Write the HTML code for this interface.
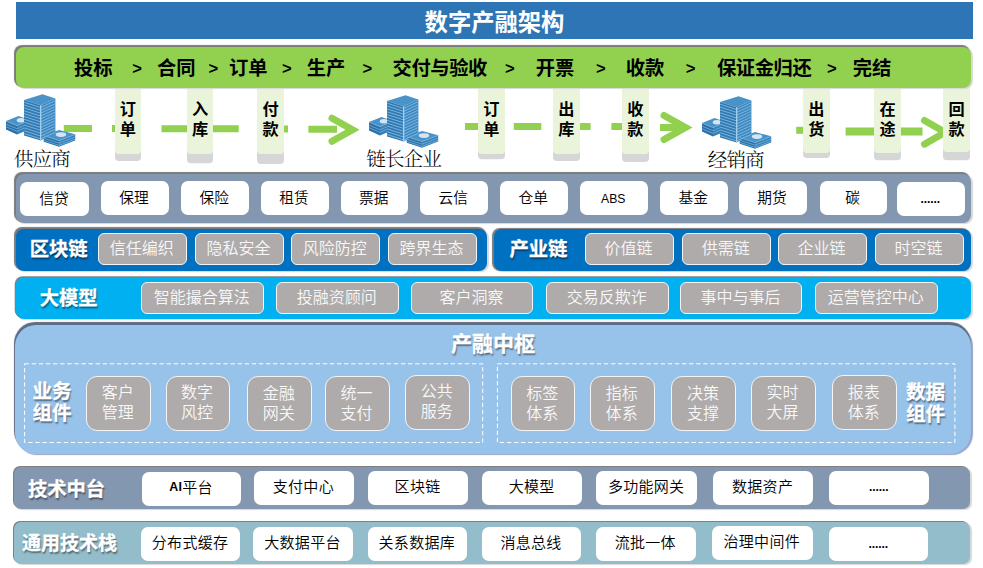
<!DOCTYPE html>
<html lang="zh-CN"><head><meta charset="utf-8"><title>数字产融架构</title>
<style>
html,body{margin:0;padding:0;background:#fff}
body{width:983px;height:568px;position:relative;overflow:hidden;font-family:"Liberation Sans","Noto Sans CJK SC",sans-serif;color:#000}
div{position:absolute;box-sizing:border-box}
.hdr{left:16px;top:2px;width:957px;height:37px;background:#2E75B6;color:#fff;font-weight:bold;font-size:23.3px;line-height:43px;text-align:center}
.bar{border-radius:8px;box-shadow:-1.3px -1.3px 0.8px #7a7a7a,1.5px 1px 1px #d8d8d8}
.gt{font-weight:bold;font-size:19.3px;line-height:24px;top:10px;white-space:nowrap}
.col{background:#EAF4DA;border-radius:0 0 4px 4px;top:80px;width:26.5px;text-align:center;font-weight:bold;font-size:16.2px;line-height:20px;padding-top:18.5px}
.lab{font-family:"Liberation Serif","Noto Serif CJK SC",serif;font-weight:300;font-size:19.6px;letter-spacing:-0.93px;line-height:20px;white-space:nowrap;top:149.6px}
.wb{background:#fff;border-radius:7px;display:flex;align-items:center;justify-content:center;font-size:14.7px;font-weight:350;white-space:nowrap;padding-bottom:3.6px;padding-right:1.6px}
.gb{background:#AFABAB;border:1px solid #f4f4f4;border-radius:6px;display:flex;align-items:center;justify-content:center;font-size:16px;font-weight:350;color:#f8f8f8;padding-bottom:3px;padding-right:1.5px;white-space:nowrap;text-align:center}
.gb2{border-radius:11px;line-height:20px;padding-bottom:0}
.rt{color:#fff;font-weight:bold;font-size:19.3px;-webkit-text-stroke:0.3px #fff;white-space:nowrap;line-height:24px;text-shadow:1px 1.5px 1.5px rgba(0,0,0,.45)}
.dash{border:1px dashed #fff}
svg{position:absolute;left:0;top:0}
</style></head><body>
<div class="hdr">数字产融架构</div>
<svg width="983" height="568" viewBox="0 0 983 568" fill="none" stroke="#92D050" stroke-width="7">
<path d="M63.8 128.6H92M112 128.6H122M161.5 128.8H238.7M268 129H288M308.4 129.2H337"/>
<path d="M332 118.2L352.5 129.7L332 141.3" stroke-linecap="round"/>
<path d="M465 126.5H490M513.8 126.5H541.3M565 126.5H590.6M611.4 126.5H636M660 127.5H680"/>
<path d="M664 115.5L685.5 127.5L664 139.5" stroke-linecap="round"/>
<path d="M796.2 130.3H815"/><path d="M845.6 131.5H922.5" stroke-width="8"/>
<path d="M924.5 120.5L945 132.3L924.5 144.2" stroke-linecap="round"/>
</svg>
<div class="col" style="left:115.0px;width:25.9px;height:73.9px;box-shadow:0 7.1px 0 #D6D6D6">订<br>单</div>
<div class="col" style="left:187.0px;width:26.0px;height:73.9px;box-shadow:0 9.2px 0 #D6D6D6">入<br>库</div>
<div class="col" style="left:257.2px;width:26.7px;height:73.9px;box-shadow:0 10.0px 0 #D6D6D6">付<br>款</div>
<div class="col" style="left:478.1px;width:26.7px;height:73.7px;box-shadow:0 5.3px 0 #D6D6D6">订<br>单</div>
<div class="col" style="left:553.1px;width:26.7px;height:73.6px;box-shadow:0 7.1px 0 #D6D6D6">出<br>库</div>
<div class="col" style="left:622.1px;width:26.7px;height:73.6px;box-shadow:0 8.1px 0 #D6D6D6">收<br>款</div>
<div class="col" style="left:803.1px;width:26.6px;height:72.8px;box-shadow:0 5.0px 0 #D6D6D6">出<br>货</div>
<div class="col" style="left:874.2px;width:26.6px;height:73.4px;box-shadow:0 7.3px 0 #D6D6D6">在<br>途</div>
<div class="col" style="left:943.4px;width:26.4px;height:72.4px;box-shadow:0 8.3px 0 #D6D6D6">回<br>款</div>
<div class="bar" style="left:16px;top:46.5px;width:955px;height:41.5px;background:#92D050">
<div class="gt" style="left:58.0px">投标</div><div class="gt" style="left:116.3px;font-size:16.6px;top:10.2px">&gt;</div><div class="gt" style="left:141.0px">合同</div><div class="gt" style="left:192.4px;font-size:16.6px;top:10.2px">&gt;</div><div class="gt" style="left:213.0px">订单</div><div class="gt" style="left:266.1px;font-size:16.6px;top:10.2px">&gt;</div><div class="gt" style="left:290.8px">生产</div><div class="gt" style="left:346.4px;font-size:16.6px;top:10.2px">&gt;</div><div class="gt" style="left:376.6px;letter-spacing:-0.4px">交付与验收</div><div class="gt" style="left:488.9px;font-size:16.6px;top:10.2px">&gt;</div><div class="gt" style="left:519.8px">开票</div><div class="gt" style="left:579.9px;font-size:16.6px;top:10.2px">&gt;</div><div class="gt" style="left:609.8px">收款</div><div class="gt" style="left:669.8px;font-size:16.6px;top:10.2px">&gt;</div><div class="gt" style="left:700.9px;letter-spacing:-0.4px">保证金归还</div><div class="gt" style="left:811.1px;font-size:16.6px;top:10.2px">&gt;</div><div class="gt" style="left:836.8px">完结</div>
</div>
<svg style="left:6px;top:94px" width="70" height="54" viewBox="0 0 70 54">
<g stroke="none">
<polygon points="0,27 12.5,22 24,26 11,31.5" fill="#4A93C8"/>
<polygon points="0,27 11,31.5 11,40.5 0,35.5" fill="#2A70A8"/>
<polygon points="11,31.5 24,26 24,35 11,40.5" fill="#3680B9"/>
<ellipse cx="15" cy="26.2" rx="4.2" ry="2.2" fill="#D5E6F2"/>
<polygon points="37.7,41.5 53.1,36 69.2,40.3 53.1,46.4" fill="#4A93C8"/>
<polygon points="37.7,41.5 53.1,46.4 53.1,52.8 37.7,47.7" fill="#2A70A8"/>
<polygon points="53.1,46.4 69.2,40.3 69.2,46.5 53.1,52.8" fill="#3680B9"/>
<ellipse cx="55" cy="40.6" rx="5.2" ry="2.3" fill="#D5E6F2"/>
<polygon points="18,6 36.5,0.2 49.4,4.5 34.7,11.3" fill="#4A93C8"/>
<polygon points="18,6 34.7,11.3 34.7,46.4 18,41.5" fill="#3079B3"/>
<polygon points="34.7,11.3 49.4,4.5 49.4,38 34.7,46.4" fill="#3D88C1"/>
</g>
<g stroke="#8CC2E6" stroke-width="0.8" fill="none">
<path d="M18 8.2L34.7 13.5L49.4 6.7"/><path d="M18 11.0L34.7 16.4L49.4 9.6"/><path d="M18 13.9L34.7 19.2L49.4 12.4"/><path d="M18 16.8L34.7 22.1L49.4 15.2"/><path d="M18 19.6L34.7 24.9L49.4 18.1"/><path d="M18 22.4L34.7 27.8L49.4 20.9"/><path d="M18 25.3L34.7 30.6L49.4 23.8"/><path d="M18 28.1L34.7 33.5L49.4 26.6"/><path d="M18 31.0L34.7 36.3L49.4 29.5"/><path d="M18 33.9L34.7 39.2L49.4 32.4"/><path d="M18 36.7L34.7 42.0L49.4 35.2"/><path d="M18 39.5L34.7 44.9L49.4 38.1"/>
</g>
<g stroke="#7DB6DE" stroke-width="0.7" fill="none">
<path d="M0 27.2L11 31.7L18 28.7M0 30.2L11 34.7L18 31.7M0 32.8L11 37.3L18 34.3"/>
<path d="M37.7 41.7L53.1 46.6L69.2 40.5M37.7 44.2L53.1 49.1L69.2 43M37.7 46.4L53.1 51.3L69.2 45.2"/>
</g>
<path d="M34.7 11.3V46.4" stroke="#A8D4F0" stroke-width="1.2"/>
</svg>
<svg style="left:368.7px;top:95px" width="70" height="54" viewBox="0 0 70 54">
<g stroke="none">
<polygon points="0,27 12.5,22 24,26 11,31.5" fill="#4A93C8"/>
<polygon points="0,27 11,31.5 11,40.5 0,35.5" fill="#2A70A8"/>
<polygon points="11,31.5 24,26 24,35 11,40.5" fill="#3680B9"/>
<ellipse cx="15" cy="26.2" rx="4.2" ry="2.2" fill="#D5E6F2"/>
<polygon points="37.7,41.5 53.1,36 69.2,40.3 53.1,46.4" fill="#4A93C8"/>
<polygon points="37.7,41.5 53.1,46.4 53.1,52.8 37.7,47.7" fill="#2A70A8"/>
<polygon points="53.1,46.4 69.2,40.3 69.2,46.5 53.1,52.8" fill="#3680B9"/>
<ellipse cx="55" cy="40.6" rx="5.2" ry="2.3" fill="#D5E6F2"/>
<polygon points="18,6 36.5,0.2 49.4,4.5 34.7,11.3" fill="#4A93C8"/>
<polygon points="18,6 34.7,11.3 34.7,46.4 18,41.5" fill="#3079B3"/>
<polygon points="34.7,11.3 49.4,4.5 49.4,38 34.7,46.4" fill="#3D88C1"/>
</g>
<g stroke="#8CC2E6" stroke-width="0.8" fill="none">
<path d="M18 8.2L34.7 13.5L49.4 6.7"/><path d="M18 11.0L34.7 16.4L49.4 9.6"/><path d="M18 13.9L34.7 19.2L49.4 12.4"/><path d="M18 16.8L34.7 22.1L49.4 15.2"/><path d="M18 19.6L34.7 24.9L49.4 18.1"/><path d="M18 22.4L34.7 27.8L49.4 20.9"/><path d="M18 25.3L34.7 30.6L49.4 23.8"/><path d="M18 28.1L34.7 33.5L49.4 26.6"/><path d="M18 31.0L34.7 36.3L49.4 29.5"/><path d="M18 33.9L34.7 39.2L49.4 32.4"/><path d="M18 36.7L34.7 42.0L49.4 35.2"/><path d="M18 39.5L34.7 44.9L49.4 38.1"/>
</g>
<g stroke="#7DB6DE" stroke-width="0.7" fill="none">
<path d="M0 27.2L11 31.7L18 28.7M0 30.2L11 34.7L18 31.7M0 32.8L11 37.3L18 34.3"/>
<path d="M37.7 41.7L53.1 46.6L69.2 40.5M37.7 44.2L53.1 49.1L69.2 43M37.7 46.4L53.1 51.3L69.2 45.2"/>
</g>
<path d="M34.7 11.3V46.4" stroke="#A8D4F0" stroke-width="1.2"/>
</svg>
<svg style="left:701.7px;top:96px" width="70" height="54" viewBox="0 0 70 54">
<g stroke="none">
<polygon points="0,27 12.5,22 24,26 11,31.5" fill="#4A93C8"/>
<polygon points="0,27 11,31.5 11,40.5 0,35.5" fill="#2A70A8"/>
<polygon points="11,31.5 24,26 24,35 11,40.5" fill="#3680B9"/>
<ellipse cx="15" cy="26.2" rx="4.2" ry="2.2" fill="#D5E6F2"/>
<polygon points="37.7,41.5 53.1,36 69.2,40.3 53.1,46.4" fill="#4A93C8"/>
<polygon points="37.7,41.5 53.1,46.4 53.1,52.8 37.7,47.7" fill="#2A70A8"/>
<polygon points="53.1,46.4 69.2,40.3 69.2,46.5 53.1,52.8" fill="#3680B9"/>
<ellipse cx="55" cy="40.6" rx="5.2" ry="2.3" fill="#D5E6F2"/>
<polygon points="18,6 36.5,0.2 49.4,4.5 34.7,11.3" fill="#4A93C8"/>
<polygon points="18,6 34.7,11.3 34.7,46.4 18,41.5" fill="#3079B3"/>
<polygon points="34.7,11.3 49.4,4.5 49.4,38 34.7,46.4" fill="#3D88C1"/>
</g>
<g stroke="#8CC2E6" stroke-width="0.8" fill="none">
<path d="M18 8.2L34.7 13.5L49.4 6.7"/><path d="M18 11.0L34.7 16.4L49.4 9.6"/><path d="M18 13.9L34.7 19.2L49.4 12.4"/><path d="M18 16.8L34.7 22.1L49.4 15.2"/><path d="M18 19.6L34.7 24.9L49.4 18.1"/><path d="M18 22.4L34.7 27.8L49.4 20.9"/><path d="M18 25.3L34.7 30.6L49.4 23.8"/><path d="M18 28.1L34.7 33.5L49.4 26.6"/><path d="M18 31.0L34.7 36.3L49.4 29.5"/><path d="M18 33.9L34.7 39.2L49.4 32.4"/><path d="M18 36.7L34.7 42.0L49.4 35.2"/><path d="M18 39.5L34.7 44.9L49.4 38.1"/>
</g>
<g stroke="#7DB6DE" stroke-width="0.7" fill="none">
<path d="M0 27.2L11 31.7L18 28.7M0 30.2L11 34.7L18 31.7M0 32.8L11 37.3L18 34.3"/>
<path d="M37.7 41.7L53.1 46.6L69.2 40.5M37.7 44.2L53.1 49.1L69.2 43M37.7 46.4L53.1 51.3L69.2 45.2"/>
</g>
<path d="M34.7 11.3V46.4" stroke="#A8D4F0" stroke-width="1.2"/>
</svg>
<div class="lab" style="left:13.8px;top:150.3px">供应商</div>
<div class="lab" style="left:366.3px">链长企业</div>
<div class="lab" style="left:707.8px;top:150.6px">经销商</div>
<div class="bar" style="left:16px;top:173.5px;width:955px;height:49px;background:#8497B0"></div>
<div class="wb" style="left:20.3px;top:182.0px;width:68.8px;height:34.0px;">信贷</div>
<div class="wb" style="left:100.7px;top:181.0px;width:68.2px;height:34.0px;">保理</div>
<div class="wb" style="left:180.8px;top:181.0px;width:68.4px;height:34.0px;">保险</div>
<div class="wb" style="left:261.0px;top:181.0px;width:67.5px;height:34.0px;">租赁</div>
<div class="wb" style="left:340.9px;top:181.0px;width:67.1px;height:34.0px;">票据</div>
<div class="wb" style="left:420.1px;top:181.0px;width:67.8px;height:34.0px;">云信</div>
<div class="wb" style="left:499.7px;top:181.0px;width:68.5px;height:34.0px;">仓单</div>
<div class="wb" style="left:579.6px;top:181.0px;width:68.9px;height:34.0px;"><span style="font-size:12.2px;position:relative;top:2.7px">ABS</span></div>
<div class="wb" style="left:659.9px;top:181.0px;width:68.1px;height:34.0px;">基金</div>
<div class="wb" style="left:738.7px;top:181.0px;width:68.2px;height:34.0px;">期货</div>
<div class="wb" style="left:819.7px;top:181.0px;width:67.3px;height:34.0px;">碳</div>
<div class="wb" style="left:896.8px;top:182.0px;width:68.5px;height:34.0px;"><span style="font-size:12px;font-weight:bold;letter-spacing:-0.1px;position:relative;top:1.8px">......</span></div>
<div class="bar" style="left:16px;top:229px;width:471px;height:42px;background:#0070C0"></div>
<div class="bar" style="left:494px;top:229px;width:477px;height:42px;background:#0070C0;box-shadow:-1.4px -0.7px 0.8px #7a7a7a,1.5px 1px 1px #d8d8d8"></div>
<div class="rt" style="left:29.8px;top:238.2px">区块链</div>
<div class="rt" style="left:509.5px;top:238.2px">产业链</div>
<div class="gb" style="left:98.3px;top:233.0px;width:88.5px;height:31.8px;">信任编织</div>
<div class="gb" style="left:194.6px;top:233.0px;width:89.2px;height:31.8px;">隐私安全</div>
<div class="gb" style="left:290.8px;top:233.0px;width:89.2px;height:31.8px;">风险防控</div>
<div class="gb" style="left:387.6px;top:233.0px;width:89.2px;height:31.8px;">跨界生态</div>
<div class="gb" style="left:584.8px;top:233.0px;width:88.9px;height:31.8px;">价值链</div>
<div class="gb" style="left:682.4px;top:233.0px;width:88.2px;height:31.8px;">供需链</div>
<div class="gb" style="left:778.1px;top:233.0px;width:88.5px;height:31.8px;">企业链</div>
<div class="gb" style="left:875.0px;top:233.0px;width:88.7px;height:31.8px;">时空链</div>
<div class="bar" style="left:16.3px;top:277px;width:954.7px;height:41.8px;background:#00B0F0;box-shadow:-1.3px -0.8px 0.6px #808080,1.5px 1px 1px #d8d8d8"></div>
<div class="rt" style="left:39.8px;top:287px">大模型</div>
<div class="gb" style="left:141.1px;top:282.3px;width:122.8px;height:31.4px;">智能撮合算法</div>
<div class="gb" style="left:276.3px;top:282.3px;width:122.4px;height:31.4px;">投融资顾问</div>
<div class="gb" style="left:411.1px;top:282.3px;width:122.3px;height:31.4px;">客户洞察</div>
<div class="gb" style="left:546.2px;top:282.3px;width:122.5px;height:31.4px;">交易反欺诈</div>
<div class="gb" style="left:680.0px;top:282.3px;width:122.3px;height:31.4px;">事中与事后</div>
<div class="gb" style="left:815.1px;top:282.3px;width:122.7px;height:31.4px;">运营管控中心</div>
<div class="bar" style="left:15.3px;top:325px;width:955.7px;height:128.6px;background:#97C2EA;border-radius:21px;box-shadow:-0.8px -2.7px 0.8px #5d6b85,1.6px 0.5px 1px #98a6cc"></div>
<div class="rt" style="left:451px;top:332px;font-size:21px">产融中枢</div>
<svg width="983" height="568" viewBox="0 0 983 568" fill="none" stroke="#fff" stroke-width="1" stroke-dasharray="4.4 2.7"><rect x="24.6" y="363.8" width="458.1" height="78.7"/><rect x="497.4" y="363.8" width="457.5" height="78.7"/></svg>
<div class="rt" style="left:32.5px;top:381px;font-size:19.5px;line-height:21.6px">业务<br>组件</div>
<div class="rt" style="left:906px;top:382.2px;font-size:19.5px;line-height:21.6px">数据<br>组件</div>
<div class="gb gb2" style="left:86.0px;top:376.0px;width:64.8px;height:54.8px;">客户<br>管理</div>
<div class="gb gb2" style="left:165.8px;top:376.0px;width:63.8px;height:54.8px;">数字<br>风控</div>
<div class="gb gb2" style="left:247.0px;top:376.2px;width:64.8px;height:54.8px;">金融<br>网关</div>
<div class="gb gb2" style="left:324.8px;top:376.2px;width:65.0px;height:54.8px;">统一<br>支付</div>
<div class="gb gb2" style="left:405.2px;top:375.0px;width:64.6px;height:54.8px;">公共<br>服务</div>
<div class="gb gb2" style="left:510.8px;top:376.2px;width:64.5px;height:54.8px;">标签<br>体系</div>
<div class="gb gb2" style="left:589.9px;top:376.2px;width:65.1px;height:54.8px;">指标<br>体系</div>
<div class="gb gb2" style="left:671.4px;top:376.2px;width:64.8px;height:54.8px;">决策<br>支撑</div>
<div class="gb gb2" style="left:750.8px;top:376.0px;width:65.0px;height:54.8px;">实时<br>大屏</div>
<div class="gb gb2" style="left:831.8px;top:375.2px;width:65.3px;height:54.8px;">报表<br>体系</div>
<div class="bar" style="left:14.3px;top:467px;width:955.7px;height:41.7px;background:#8497B0;border-radius:7px;box-shadow:-1px -1px 0.6px #808080,1.5px 1px 1px #d8d8d8"></div>
<div class="rt" style="left:28px;top:477.6px">技术中台</div>
<div class="wb" style="left:142.0px;top:472.0px;width:99.2px;height:34.0px;padding-bottom:5.6px;font-size:15px;letter-spacing:0.3px;padding-right:1px;"><span style="font-size:12.4px;font-weight:bold;position:relative;top:1.2px">AI</span>平台</div>
<div class="wb" style="left:254.0px;top:471.0px;width:99.7px;height:34.0px;padding-bottom:5.6px;font-size:15px;letter-spacing:0.3px;padding-right:1px;">支付中心</div>
<div class="wb" style="left:368.4px;top:471.0px;width:99.3px;height:34.0px;padding-bottom:5.6px;font-size:15px;letter-spacing:0.3px;padding-right:1px;">区块链</div>
<div class="wb" style="left:482.4px;top:471.0px;width:99.4px;height:34.0px;padding-bottom:5.6px;font-size:15px;letter-spacing:0.3px;padding-right:1px;">大模型</div>
<div class="wb" style="left:596.4px;top:471.0px;width:100.5px;height:34.0px;padding-bottom:5.6px;font-size:15px;letter-spacing:0.3px;padding-right:1px;">多功能网关</div>
<div class="wb" style="left:713.3px;top:471.0px;width:99.6px;height:34.0px;padding-bottom:5.6px;font-size:15px;letter-spacing:0.3px;padding-right:1px;">数据资产</div>
<div class="wb" style="left:829.3px;top:471.0px;width:100.0px;height:34.0px;padding-bottom:5.6px;font-size:15px;letter-spacing:0.3px;padding-right:1px;"><span style="font-size:12px;font-weight:bold;letter-spacing:-0.1px;position:relative;top:1.8px">......</span></div>
<div class="bar" style="left:14.3px;top:522px;width:955.7px;height:41.6px;background:#93BDCB;border-radius:7px;box-shadow:-1px -1px 0.6px #808080,1.5px 1px 1px #d8d8d8"></div>
<div class="rt" style="left:22px;top:532px;font-size:19px">通用技术栈</div>
<div class="wb" style="left:141.0px;top:526.8px;width:99.1px;height:34.0px;padding-bottom:4px;font-size:15px;letter-spacing:0.3px;padding-right:1px;">分布式缓存</div>
<div class="wb" style="left:253.2px;top:526.8px;width:99.7px;height:34.0px;padding-bottom:4px;font-size:15px;letter-spacing:0.3px;padding-right:1px;">大数据平台</div>
<div class="wb" style="left:368.0px;top:526.8px;width:98.6px;height:34.0px;padding-bottom:4px;font-size:15px;letter-spacing:0.3px;padding-right:1px;">关系数据库</div>
<div class="wb" style="left:482.0px;top:526.8px;width:99.0px;height:34.0px;padding-bottom:4px;font-size:15px;letter-spacing:0.3px;padding-right:1px;">消息总线</div>
<div class="wb" style="left:595.6px;top:526.8px;width:100.4px;height:34.0px;padding-bottom:4px;font-size:15px;letter-spacing:0.3px;padding-right:1px;">流批一体</div>
<div class="wb" style="left:712.0px;top:525.5px;width:100.5px;height:34.0px;padding-bottom:4px;font-size:15px;letter-spacing:0.3px;padding-right:1px;">治理中间件</div>
<div class="wb" style="left:828.9px;top:526.8px;width:99.6px;height:34.0px;padding-bottom:4px;font-size:15px;letter-spacing:0.3px;padding-right:1px;"><span style="font-size:12px;font-weight:bold;letter-spacing:-0.1px;position:relative;top:1.8px">......</span></div>
</body></html>
